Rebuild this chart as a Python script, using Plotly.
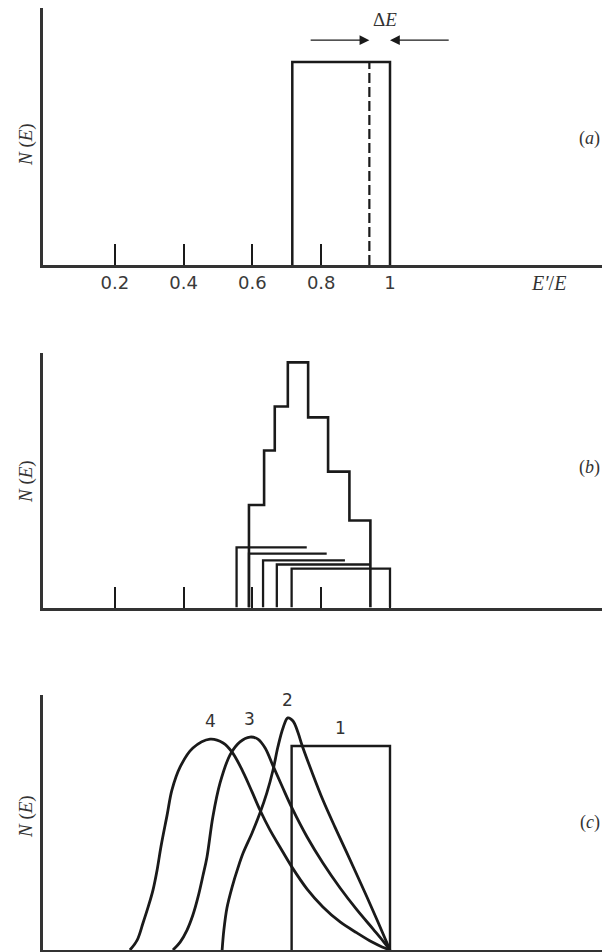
import plotly.graph_objects as go

# ---------------- data ----------------
# panel (a): single collision, uniform distribution between alpha*E and E
A_LEFT = 0.716
A_RIGHT = 1.0
A_HEIGHT = 0.79
A_DASH = 0.94
TICK_VALS = [0.2, 0.4, 0.6, 0.8, 1.0]
TICK_TEXT = ["0.2", "0.4", "0.6", "0.8", "1"]

# panel (b): second-collision rectangles and their sum (histogram)
B_RECT_LEFT = [0.554, 0.590, 0.631, 0.671, 0.714]
B_RECT_RIGHT = [0.758, 0.816, 0.869, 0.942, 1.0]
B_RECT_HEIGHT = [0.236, 0.212, 0.185, 0.169, 0.153]
B_HIST_EDGES = [0.590, 0.634, 0.665, 0.703, 0.762, 0.820, 0.882, 0.943]
B_HIST_HEIGHT = [0.403, 0.617, 0.790, 0.963, 0.747, 0.534, 0.342]

# panel (c): distributions after n collisions
C1_LEFT = 0.714
C1_RIGHT = 1.0
C1_HEIGHT = 0.80
C2_X = [0.512, 0.517, 0.526, 0.541, 0.558, 0.573, 0.599, 0.622, 0.642, 0.660,
        0.674, 0.689, 0.703, 0.718, 0.733, 0.744, 0.773, 0.805, 0.840, 0.875,
        0.904, 0.933, 0.965, 1.0]
C2_Y = [0.0, 0.078, 0.165, 0.247, 0.322, 0.380, 0.459, 0.537, 0.616, 0.706,
        0.796, 0.871, 0.910, 0.898, 0.851, 0.804, 0.698, 0.588, 0.482, 0.380,
        0.294, 0.208, 0.110, 0.0]
C3_X = [0.369, 0.390, 0.410, 0.427, 0.442, 0.456, 0.468, 0.485, 0.506, 0.535,
        0.564, 0.593, 0.616, 0.637, 0.660, 0.686, 0.715, 0.759, 0.805, 0.855,
        0.904, 0.951, 0.980, 1.0]
C3_Y = [0.0, 0.031, 0.078, 0.137, 0.208, 0.290, 0.365, 0.522, 0.655, 0.765,
        0.816, 0.835, 0.827, 0.792, 0.722, 0.643, 0.557, 0.443, 0.341, 0.243,
        0.157, 0.082, 0.035, 0.0]
C4_X = [0.244, 0.265, 0.282, 0.297, 0.311, 0.323, 0.334, 0.352, 0.366, 0.390,
        0.427, 0.477, 0.515, 0.541, 0.573, 0.599, 0.622, 0.651, 0.680, 0.715,
        0.759, 0.805, 0.855, 0.904, 0.948, 0.977, 1.0]
C4_Y = [0.0, 0.039, 0.106, 0.169, 0.235, 0.314, 0.404, 0.529, 0.627, 0.718,
        0.792, 0.827, 0.812, 0.776, 0.698, 0.620, 0.549, 0.471, 0.404, 0.325,
        0.239, 0.169, 0.110, 0.067, 0.031, 0.012, 0.0]
C_LABELS = ["1", "2", "3", "4"]

# ---------------- figure ----------------
INK = "#1a1a1a"
AXIS_INK = "#333333"
TEXT_INK = "#333333"
SERIF = "Liberation Serif, DejaVu Serif, serif"
SANS = "DejaVu Sans, sans-serif"
W, H = 602, 952
LW = 2.5

fig = go.Figure()


def line(xs, ys, ax, width=LW, dash="solid", shape="linear"):
    ln = dict(color=INK, width=width, dash=dash, shape=shape)
    if shape == "spline":
        ln["smoothing"] = 1.0
    fig.add_trace(go.Scatter(
        x=xs, y=ys, mode="lines", xaxis="x" + ax, yaxis="y" + ax,
        line=ln, hoverinfo="skip", showlegend=False, cliponaxis=False))


# panel (a)
line([A_LEFT, A_LEFT, A_RIGHT, A_RIGHT], [0, A_HEIGHT, A_HEIGHT, 0], "")
line([A_DASH, A_DASH], [0, A_HEIGHT], "", width=2.2, dash="10px,4px")

# panel (b)
n = len(B_RECT_LEFT)
for i in range(n):
    L, R, h = B_RECT_LEFT[i], B_RECT_RIGHT[i], B_RECT_HEIGHT[i]
    if i == n - 1:
        line([L, L, R, R], [0, h, h, 0], "2", width=2.3)
    else:
        line([L, L, R], [0, h, h], "2", width=2.3)
hx = [B_HIST_EDGES[0]] + B_HIST_EDGES + [B_HIST_EDGES[-1]]
hy = [0] + B_HIST_HEIGHT + [B_HIST_HEIGHT[-1], 0]
line(hx, hy, "2", width=2.6, shape="hv")

# panel (c)
line([C1_LEFT, C1_LEFT, C1_RIGHT, C1_RIGHT], [0, C1_HEIGHT, C1_HEIGHT, 0], "3", width=2.4)
for xs, ys in [(C2_X, C2_Y), (C3_X, C3_Y), (C4_X, C4_Y)]:
    line(xs, ys, "3", width=2.8, shape="spline")

# ---------------- axes ----------------
X_DOM = [43 / W, 1.0]
X_RANGE = [(43 - 46) / 344, (W - 46) / 344]


def ydom(top_px, bot_px):
    return [1 - bot_px / H, 1 - top_px / H]


def xaxis(anchor, show_ticks, show_labels):
    return dict(domain=X_DOM, range=X_RANGE, anchor=anchor, showgrid=False,
                zeroline=False, showline=True, linecolor=AXIS_INK, linewidth=2.6,
                ticks="inside" if show_ticks else "", ticklen=21, tickwidth=2,
                tickcolor=INK, tickmode="array", tickvals=TICK_VALS,
                ticktext=TICK_TEXT if show_labels else [""] * len(TICK_VALS),
                showticklabels=show_labels,
                tickfont=dict(family=SANS, size=18, color="#3a3a3a"), fixedrange=True)


def yaxis(anchor, dom):
    return dict(domain=dom, range=[0, 1], anchor=anchor, showgrid=False,
                zeroline=False, showline=True, linecolor=AXIS_INK, linewidth=2.6,
                ticks="", showticklabels=False, fixedrange=True)


DOM_A = ydom(8, 265)
DOM_B = ydom(353, 607.5)
DOM_C = ydom(695, 950)

fig.update_layout(
    width=W, height=H, margin=dict(l=0, r=0, t=0, b=0),
    paper_bgcolor="white", plot_bgcolor="white",
    xaxis=xaxis("y", True, True), yaxis=yaxis("x", DOM_A),
    xaxis2=xaxis("y2", True, False), yaxis2=yaxis("x2", DOM_B),
    xaxis3=xaxis("y3", False, False), yaxis3=yaxis("x3", DOM_C),
)

ann = []
# N(E) labels and panel letters (pixel centres)
for ne_px, let_px, letter in [(145, 138, "a"), (482, 467, "b"), (817, 822, "c")]:
    ann.append(dict(xref="paper", yref="paper", x=26 / W, y=1 - ne_px / H,
                    xanchor="center", yanchor="middle",
                    text="<i>N</i> (<i>E</i>)", textangle=-90, showarrow=False,
                    font=dict(family=SERIF, size=19, color=TEXT_INK)))
    ann.append(dict(xref="paper", yref="paper", x=1.0, xanchor="right",
                    y=1 - let_px / H, yanchor="middle",
                    text="(<i>%s</i>)" % letter, showarrow=False,
                    font=dict(family=SERIF, size=18, color=TEXT_INK)))

# axis title E'/E
ann.append(dict(xref="paper", yref="paper", x=548 / W, y=1 - 283 / H,
                xanchor="center", yanchor="middle",
                text="<i>E′</i>/<i>E</i>", showarrow=False,
                font=dict(family=SERIF, size=20, color=TEXT_INK)))

# Delta E arrows in panel (a)
arrow_y = 0.875
ann.append(dict(xref="x", yref="y", x=A_DASH, y=arrow_y, ax=A_DASH - 0.175, ay=arrow_y,
                axref="x", ayref="y", text="", showarrow=True, arrowhead=2,
                arrowsize=1.4, arrowwidth=1.4, arrowcolor=INK))
ann.append(dict(xref="x", yref="y", x=A_RIGHT, y=arrow_y, ax=A_RIGHT + 0.175, ay=arrow_y,
                axref="x", ayref="y", text="", showarrow=True, arrowhead=2,
                arrowsize=1.4, arrowwidth=1.4, arrowcolor=INK))
ann.append(dict(xref="x", yref="y", x=(A_DASH + A_RIGHT) / 2 + 0.015, y=arrow_y,
                yshift=21, text="Δ<i>E</i>", showarrow=False,
                font=dict(family=SERIF, size=19, color=TEXT_INK)))


# curve labels in panel (c)
def peak(xs, ys):
    k = max(range(len(ys)), key=lambda i: ys[i])
    return xs[k], ys[k]


label_pos = [((C1_LEFT + C1_RIGHT) / 2, C1_HEIGHT), peak(C2_X, C2_Y),
             peak(C3_X, C3_Y), peak(C4_X, C4_Y)]
for lab, (px, py) in zip(C_LABELS, label_pos):
    ann.append(dict(xref="x3", yref="y3", x=px, y=py, yanchor="middle", yshift=18,
                    text=lab, showarrow=False,
                    font=dict(family=SANS, size=17, color=TEXT_INK)))

fig.update_layout(annotations=ann)
fig.write_html("out.html")
